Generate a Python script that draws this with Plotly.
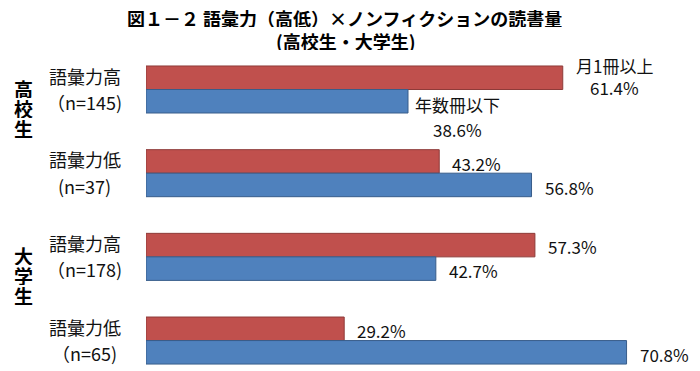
import plotly.graph_objects as go

# ---- data ----
groups = ["高校生", "高校生", "大学生", "大学生"]
levels = ["語彙力高", "語彙力低", "語彙力高", "語彙力低"]
n_labels = ["（n=145)", "(n=37)", "（n=178)", "（n=65)"]
series_names = ["月1冊以上", "年数冊以下"]
monthly = [61.4, 43.2, 57.3, 29.2]   # 月1冊以上
yearly = [38.6, 56.8, 42.7, 70.8]    # 年数冊以下
title_lines = ["図１－２ 語彙力（高低）×ノンフィクションの読書量", "(高校生・大学生)"]

cats = [f"{g}・{l}" for g, l in zip(groups, levels)]
FONT = "Noto Sans CJK JP"
RED, RED_LINE = "#C0504D", "#8E3B39"
BLUE, BLUE_LINE = "#4F81BD", "#385D8A"

# page has an 8px body margin; compensate
OFF = 8
L, R, T, B = 146 - OFF, 700 - (689 - OFF), 50 - OFF, 371 - (369 - OFF)

fig = go.Figure()
fig.add_trace(go.Bar(y=cats, x=monthly, orientation="h", name=series_names[0],
                     marker=dict(color=RED, line=dict(color=RED_LINE, width=1))))
fig.add_trace(go.Bar(y=cats, x=yearly, orientation="h", name=series_names[1],
                     marker=dict(color=BLUE, line=dict(color=BLUE_LINE, width=1))))

ann = []
vfont = dict(family=FONT, size=17, color="#111")
lfont = dict(family=FONT, size=18, color="#111")
for i, c in enumerate(cats):
    if i == 0:
        ann.append(dict(x=monthly[i], y=c, text=series_names[0], xanchor="center", xshift=52,
                        yshift=24, showarrow=False, font=vfont))
        ann.append(dict(x=monthly[i], y=c, text=f"{monthly[i]}%", xanchor="center", xshift=52,
                        yshift=2, showarrow=False, font=vfont))
        ann.append(dict(x=yearly[i], y=c, text=series_names[1], xanchor="center", xshift=49,
                        yshift=-15, showarrow=False, font=vfont))
        ann.append(dict(x=yearly[i], y=c, text=f"{yearly[i]}%", xanchor="center", xshift=49,
                        yshift=-40, showarrow=False, font=vfont))
    else:
        ann.append(dict(x=monthly[i], y=c, text=f"{monthly[i]}%", xanchor="left", xshift=11,
                        yshift=10, showarrow=False, font=vfont))
        ann.append(dict(x=yearly[i], y=c, text=f"{yearly[i]}%", xanchor="left", xshift=11,
                        yshift=-14, showarrow=False, font=vfont))
    # left labels
    ann.append(dict(x=0, xref="paper", y=c, text=levels[i], xanchor="center", xshift=-61,
                    yshift=14, showarrow=False, font=lfont))
    ann.append(dict(x=0, xref="paper", y=c, text=n_labels[i], xanchor="center", xshift=-62,
                    yshift=-12.5, showarrow=False, font=lfont))

# group labels (vertical)
gfont = dict(family=FONT, size=19, color="#000", weight="bold")
for i, c in enumerate(cats):
    if i == 0 or groups[i] != groups[i - 1]:
        for k, ch in enumerate(groups[i]):
            ann.append(dict(x=0, xref="paper", y=c, text=ch, xanchor="center", xshift=-123,
                            yshift=1 - 20 * k, showarrow=False, font=gfont,
                            height=19, borderpad=0))

# title lines
tfont = dict(family=FONT, size=18, color="#000", weight="bold")
ann.append(dict(x=0, xref="paper", y=1, yref="paper", text=title_lines[0], xanchor="center",
                yanchor="middle", xshift=336 - L, yshift=T - (18 - OFF), showarrow=False,
                font=tfont, height=18, borderpad=0))
ann.append(dict(x=0, xref="paper", y=1, yref="paper", text=title_lines[1], xanchor="center",
                yanchor="middle", xshift=338 - L, yshift=T - (41 - OFF), showarrow=False,
                font=tfont, height=18, borderpad=0))

fig.update_layout(
    width=700, height=371,
    margin=dict(l=L, r=R, t=T, b=B),
    paper_bgcolor="white", plot_bgcolor="white",
    barmode="group", bargap=0.438, bargroupgap=0,
    showlegend=False,
    xaxis=dict(range=[0, 80], visible=False, showgrid=False, zeroline=False),
    yaxis=dict(range=[3.340, -0.472], showticklabels=False, showgrid=False,
               zeroline=False, showline=False, ticks=""),
    annotations=ann,
)

fig.write_html("out.html")
